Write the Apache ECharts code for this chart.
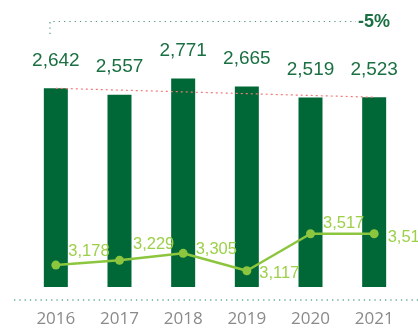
<!DOCTYPE html>
<html>
<head>
<meta charset="utf-8">
<script src="https://cdn.jsdelivr.net/npm/echarts@6/dist/echarts.min.js"></script>
<style>
  html, body { margin: 0; padding: 0; background: #fff; }
  #chart { width: 418px; height: 329px; }
</style>
</head>
<body>
<div id="chart"></div>
<script>
// Yearly totals (bars) and the secondary measure (line)
const years = ['2016', '2017', '2018', '2019', '2020', '2021'];
const barValues = [2642, 2557, 2771, 2665, 2519, 2523];
const lineValues = [3178, 3229, 3305, 3117, 3517, 3516];
const changeLabel = '-5%';

// Per-point nudges for the line labels so they clear the bars
const lineLabelOffsets = [[8, -14], [9, -16], [8, -4], [8, 3], [8, -10], [9, 4]];

const fmt = v => v.toLocaleString('en-US');

const chart = echarts.init(document.getElementById('chart'), null, { renderer: 'canvas' });

const BAR = '#006837';
const BAR_TEXT = '#1b7043';
const LINE = '#8cc63f';
const LINE_TEXT = '#9dd04a';
const FONT = '"Liberation Sans", sans-serif';

chart.setOption({
  animation: false,
  grid: { left: 24, right: 12, top: 20, bottom: 42 },
  xAxis: {
    type: 'category',
    data: years,
    axisLine: { show: false },
    axisTick: { show: false },
    axisLabel: { color: '#8a8a8a', fontSize: 17, margin: 24, fontFamily: '"Open Sans", sans-serif' }
  },
  yAxis: [
    { type: 'value', min: 0, max: 3550, show: false, splitLine: { show: false } },
    { type: 'value', min: 2941, max: 5827, show: false, splitLine: { show: false } }
  ],
  series: [
    {
      type: 'bar',
      data: barValues,
      yAxisIndex: 0,
      barWidth: 24,
      itemStyle: { color: BAR },
      label: {
        show: true,
        position: 'top',
        distance: 18,
        color: BAR_TEXT,
        fontSize: 19,
        fontFamily: FONT,
        formatter: p => fmt(p.value)
      },
      markLine: {
        silent: true,
        symbol: ['none', 'none'],
        label: { show: false },
        lineStyle: { color: '#f07a7a', type: [2, 3], width: 1.2 },
        data: [[
          { coord: [years[0], barValues[0]] },
          { coord: [years[years.length - 1], barValues[barValues.length - 1]] }
        ]]
      }
    },
    {
      type: 'line',
      yAxisIndex: 1,
      data: lineValues.map((v, i) => ({
        value: v,
        label: { offset: lineLabelOffsets[i] }
      })),
      symbol: 'circle',
      symbolSize: 9,
      lineStyle: { color: LINE, width: 2.5 },
      itemStyle: { color: LINE },
      label: {
        show: true,
        position: 'right',
        distance: 0,
        color: LINE_TEXT,
        fontSize: 16.5,
        fontFamily: FONT,
        formatter: p => fmt(p.value)
      }
    }
  ],
  graphic: [
    {
      type: 'line',
      shape: { x1: 14, y1: 300, x2: 418, y2: 300 },
      style: { stroke: '#5fb08f', lineWidth: 1.3, lineDash: [1.3, 4] }
    },
    {
      type: 'polyline',
      shape: { points: [[50, 34], [50, 21.5], [356, 21.5]] },
      style: { stroke: '#5a9a80', lineWidth: 1.2, lineDash: [1.3, 4], fill: null }
    },
    {
      type: 'text',
      x: 358,
      y: 22,
      style: {
        text: changeLabel,
        fill: BAR_TEXT,
        font: 'bold 18px ' + FONT,
        textVerticalAlign: 'middle'
      }
    }
  ]
});
</script>
</body>
</html>
